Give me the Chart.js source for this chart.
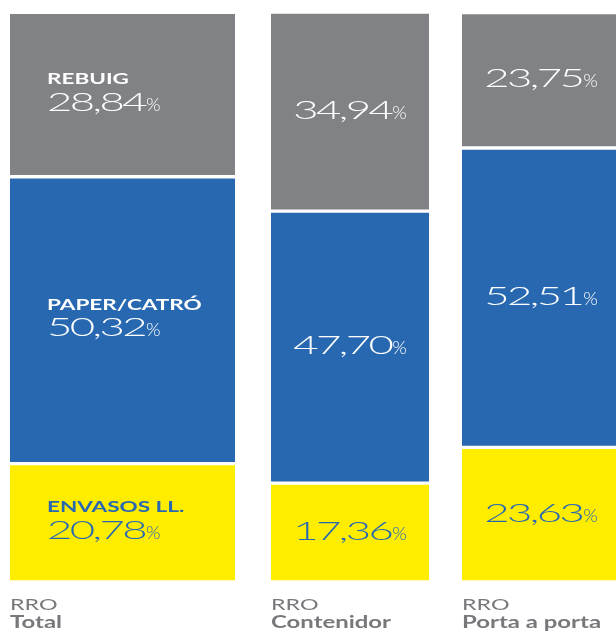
<!DOCTYPE html>
<html>
<head>
<meta charset="utf-8">
<script src="https://cdn.jsdelivr.net/npm/chart.js@4.4.0/dist/chart.umd.min.js"></script>
<style>
    html, body { margin: 0; padding: 0; overflow: hidden; background: #fff; }
    #wrap { width: 627px; height: 633px; position: relative; }
</style>
</head>
<body>
<div id="wrap"><canvas id="chart"></canvas></div>
<script>
// columnes i fraccions (de baix a dalt)
let columns = ['Total', 'Contenidor', 'Porta a porta']
let column_prefix = 'RRO'
let segment_names = ['ENVASOS LL.', 'PAPER/CATRÓ', 'REBUIG']
let envasos = [20.78, 17.36, 23.63]
let paper = [50.32, 47.70, 52.51]
let rebuig = [28.84, 34.94, 23.75]

const bar_colors = ['#ffed00', '#2868b0', '#818286']
const text_colors = ['#2868b0', '#ffffff', '#ffffff']
const bar_widths = [225, 158, 158]
const slot_weights = [245, 210, 172]
const FONT = 'Lato, "Open Sans", sans-serif'

let series = [envasos, paper, rebuig]
let datasets = []
let scales = {
    y: { stacked: true, display: false, min: 0, max: 100 }
}

columns.forEach((col, i) => {
    // one hidden x axis per column, placed side by side
    scales['x' + i] = {
        type: 'category',
        position: 'bottom',
        labels: [col],
        stacked: true,
        display: false,
        stack: 'columns',
        stackWeight: slot_weights[i],
    }
    series.forEach((values, s) => {
        datasets.push({
            label: segment_names[s],
            data: [values[i]],
            column: i,
            segment: s,
            xAxisID: 'x' + i,
            yAxisID: 'y',
            grouped: false,
            backgroundColor: bar_colors[s],
            borderColor: '#ffffff',
            borderWidth: { top: 2, bottom: 2, left: 0, right: 0 },
            borderSkipped: false,
            barThickness: bar_widths[i],
        })
    })
})

// the original type is an extended face, so stretch the glyphs sideways
function wideText(ctx, text, x, y, stretch, spacing) {
    ctx.save()
    ctx.letterSpacing = (spacing || 0) + 'px'
    ctx.translate(x, y)
    ctx.scale(stretch, 1)
    ctx.fillText(text, 0, 0)
    let w = ctx.measureText(text).width * stretch
    ctx.restore()
    return w
}

function textWidth(ctx, text, stretch, spacing) {
    ctx.save()
    ctx.letterSpacing = (spacing || 0) + 'px'
    let w = ctx.measureText(text).width * stretch
    ctx.restore()
    return w
}

function drawValue(ctx, value, x, y, align) {
    let num = value.toFixed(2).replace('.', ',')
    ctx.font = '300 25px ' + FONT
    let w1 = textWidth(ctx, num, 1.75, -1.5)
    ctx.font = '300 17px ' + FONT
    let w2 = textWidth(ctx, '%', 1.1)
    let start = align === 'center' ? x - (w1 + 1 + w2) / 2 : x
    ctx.font = '300 25px ' + FONT
    wideText(ctx, num, start, y, 1.75, -1.5)
    ctx.font = '300 17px ' + FONT
    wideText(ctx, '%', start + w1 + 1, y, 1.1)
}

const barLabels = {
    id: 'barLabels',
    afterDatasetsDraw(chart) {
        const ctx = chart.ctx
        ctx.save()
        ctx.textAlign = 'left'
        ctx.textBaseline = 'alphabetic'
        chart.data.datasets.forEach((ds, d) => {
            let bar = chart.getDatasetMeta(d).data[0]
            let left = bar.x - bar.width / 2
            let mid = (bar.y + bar.base) / 2
            ctx.fillStyle = text_colors[ds.segment]
            if (ds.column === 0) {
                ctx.font = 'bold 15px ' + FONT
                wideText(ctx, ds.label, left + 37, mid - 10.5, 1.5)
                drawValue(ctx, ds.data[0], left + 37, mid + 16, 'left')
            } else {
                drawValue(ctx, ds.data[0], bar.x, mid + 7, 'center')
            }
            // column captions under the bottom segment
            if (ds.segment === 0) {
                ctx.fillStyle = '#77787b'
                ctx.font = '16px ' + FONT
                wideText(ctx, column_prefix, left, bar.base + 28, 1.45)
                ctx.font = 'bold 16.5px ' + FONT
                wideText(ctx, columns[ds.column], left, bar.base + 46, 1.45)
            }
        })
        ctx.restore()
    }
}

let myChart = new Chart(document.getElementById('chart'), {
    type: 'bar',
    data: { datasets: datasets },
    options: {
        responsive: true,
        maintainAspectRatio: false,
        animation: false,
        layout: { padding: { top: 12, bottom: 51, left: 0, right: 0 } },
        plugins: {
            legend: { display: false },
            tooltip: { enabled: false },
        },
        scales: scales,
    },
    plugins: [barLabels]
});
</script>
</body>
</html>
